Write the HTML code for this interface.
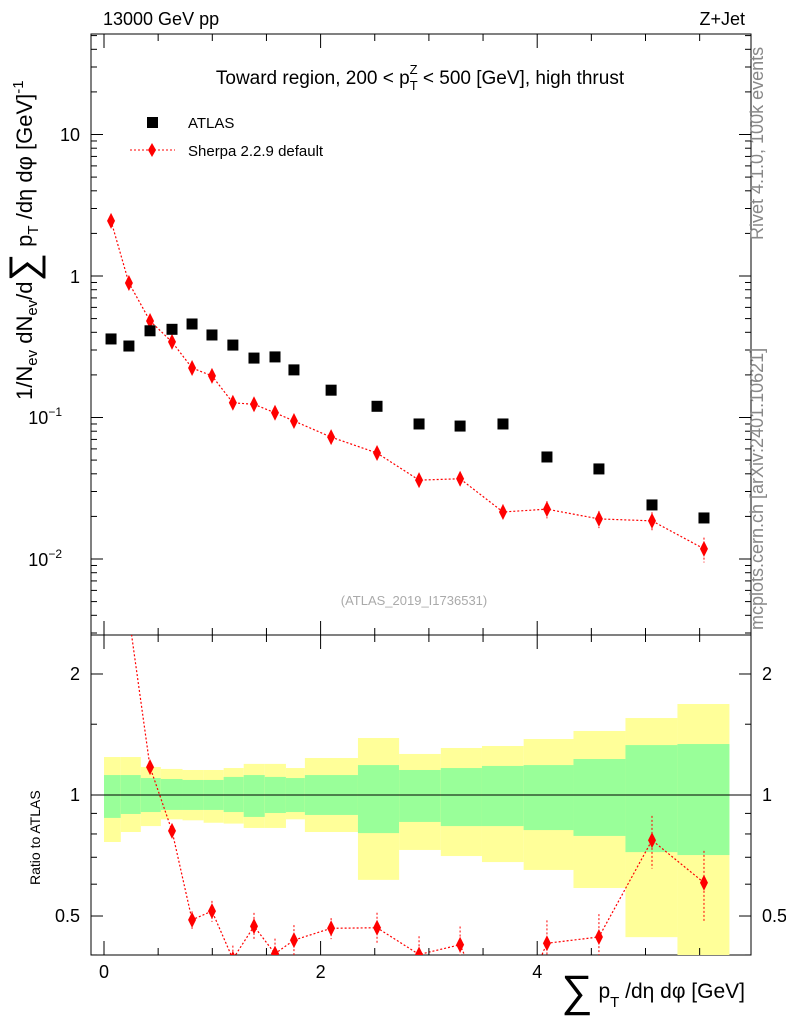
<!DOCTYPE html>
<html><head><meta charset="utf-8"><style>
body{margin:0;background:#fff;}
svg{display:block;font-family:"Liberation Sans",sans-serif;}
</style></head><body>
<svg id="c" width="786" height="1024" xmlns="http://www.w3.org/2000/svg">
<rect x="91" y="34" width="660" height="601" fill="none" stroke="#000"/>
<rect x="91" y="635" width="660" height="320" fill="none" stroke="#000"/>
<g id="bands"></g><g id="ratio"></g><g id="main"></g><g id="axes"></g>
<text x="103" y="25" font-size="18">13000 GeV pp</text>
<text x="745" y="25" font-size="18" text-anchor="end">Z+Jet</text>
<text x="420" y="84" font-size="19" text-anchor="middle">Toward region, 200 &lt; p<tspan font-size="13" dy="6">T</tspan><tspan font-size="13" dx="-8" dy="-16">Z</tspan><tspan dy="10"> &lt; 500 [GeV], high thrust</tspan></text>
<text x="414" y="605" font-size="13" fill="#aaa" text-anchor="middle">(ATLAS_2019_I1736531)</text>
<text transform="translate(763,240) rotate(-90)" font-size="18" fill="#888">Rivet 4.1.0,  100k events</text>
<text transform="translate(763,630) rotate(-90)" font-size="18" fill="#888">mcplots.cern.ch [arXiv:2401.10621]</text>
<g>
<rect x="147" y="117" width="11" height="11" fill="#000"/>
<text x="188" y="128" font-size="15">ATLAS</text>
<line x1="130" y1="150" x2="175" y2="150" stroke="red" stroke-dasharray="2,2"/>
<polygon points="152,143 156,150 152,157 148,150" fill="red"/>
<text x="188" y="156" font-size="15">Sherpa 2.2.9 default</text>
</g>
<text transform="translate(32,400) rotate(-90)" font-size="22">1/N<tspan font-size="15" dy="5">ev</tspan><tspan dy="-5"> dN</tspan><tspan font-size="15" dy="5">ev</tspan><tspan dy="-5">/d</tspan><tspan font-size="40" dy="5">∑</tspan><tspan dy="-5"> p</tspan><tspan font-size="15" dy="6">T</tspan><tspan dy="-6"> /dη dφ  [GeV]</tspan><tspan font-size="15" dy="-9">-1</tspan></text>
<text transform="translate(40,885) rotate(-90)" font-size="14">Ratio to ATLAS</text>
<text x="745" y="998" font-size="21" text-anchor="end"><tspan font-size="44" dy="8">∑</tspan><tspan dy="-8"> p</tspan><tspan font-size="15" dy="9">T</tspan><tspan dy="-9"> /dη dφ [GeV]</tspan></text>
</svg>
<script>
const edges=[0,0.155,0.34,0.525,0.725,0.92,1.105,1.29,1.485,1.68,1.855,2.345,2.725,3.11,3.49,3.875,4.335,4.815,5.295,5.775];
const xc=[0.065,0.23,0.425,0.628,0.813,0.997,1.19,1.385,1.579,1.754,2.097,2.521,2.909,3.288,3.684,4.09,4.57,5.06,5.54];
const atlas=[0.359,0.32,0.41,0.42,0.458,0.383,0.325,0.263,0.268,0.217,0.156,0.12,0.09,0.087,0.09,0.0526,0.0433,0.0241,0.0195];
const sherpa=[2.45,0.893,0.481,0.342,0.224,0.197,0.127,0.124,0.108,0.0945,0.0727,0.0561,0.0361,0.0369,0.0215,0.0225,0.0192,0.0186,0.0118];
const sherpaErr=[0.03,0.03,0.04,0.04,0.05,0.06,0.08,0.08,0.09,0.09,0.06,0.09,0.11,0.11,0.13,0.14,0.14,0.15,0.2];
const yellowHi=[1.243,1.243,1.174,1.161,1.154,1.154,1.167,1.195,1.195,1.167,1.236,1.386,1.265,1.309,1.324,1.378,1.443,1.554,1.684];
const yellowLo=[0.764,0.809,0.837,0.87,0.865,0.853,0.849,0.828,0.828,0.87,0.809,0.615,0.73,0.705,0.681,0.651,0.587,0.443,0.35];
const greenHi=[1.121,1.121,1.102,1.096,1.09,1.09,1.109,1.121,1.109,1.102,1.121,1.187,1.154,1.167,1.181,1.187,1.229,1.331,1.339];
const greenLo=[0.877,0.897,0.907,0.918,0.918,0.918,0.907,0.882,0.902,0.907,0.892,0.804,0.857,0.837,0.837,0.818,0.791,0.721,0.709];
const NS="http://www.w3.org/2000/svg";
const X=v=>104+108.3*v;
const Y=v=>276-141.5*Math.log10(v);
const R=v=>795-402*Math.log10(v);
function mk(p,t,a){const e=document.createElementNS(NS,t);for(const k in a)e.setAttribute(k,a[k]);p.appendChild(e);return e;}
const gb=document.getElementById('bands'),gr=document.getElementById('ratio'),gm=document.getElementById('main'),ga=document.getElementById('axes');
for(let i=0;i<xc.length;i++){
 const x0=X(edges[i]),x1=X(edges[i+1]);
 const yt=Math.max(635,R(yellowHi[i])),yb=Math.min(955,R(yellowLo[i]));
 const y=mk(gb,'rect',{x:x0,y:yt,width:x1-x0,height:yb-yt,fill:'#ffff99'});
 
 
 const gt=R(greenHi[i]),gbm=R(greenLo[i]);
 const g=mk(gb,'rect',{x:x0,y:gt,width:x1-x0,height:gbm-gt,fill:'#99ff99'});
 
 
}
const ref=mk(gb,'line',{x1:91,x2:751,y1:R(1),y2:R(1),stroke:'#000'});


const defs=mk(document.getElementById('c'),'defs',{});
const cp=mk(defs,'clipPath',{id:'rc'});mk(cp,'rect',{x:91,y:635,width:660,height:320});
gr.setAttribute('clip-path','url(#rc)');
const rv=sherpa.map((s,i)=>s/atlas[i]);
const rl=mk(gr,'polyline',{points:rv.map((r,i)=>X(xc[i])+','+R(r)).join(' '),fill:'none',stroke:'red','stroke-dasharray':'2,2','stroke-width':1.2});


rv.forEach((r,i)=>{const x=X(xc[i]),y=R(r),e1=R(r*(1+sherpaErr[i])),e2=R(r*(1-sherpaErr[i]));
 const l=mk(gr,'line',{x1:x,x2:x,y1:e1,y2:e2,stroke:'red','stroke-dasharray':'2,2'});
 
 
 const p=mk(gr,'polygon',{points:`${x},${y-8} ${x+4},${y} ${x},${y+8} ${x-4},${y}`,fill:'red'});
 
 
});
const ml=mk(gm,'polyline',{points:sherpa.map((s,i)=>X(xc[i])+','+Y(s)).join(' '),fill:'none',stroke:'red','stroke-dasharray':'2,2','stroke-width':1.2});


sherpa.forEach((s,i)=>{const x=X(xc[i]),y=Y(s);
 const l=mk(gm,'line',{x1:x,x2:x,y1:Y(s*(1+sherpaErr[i])),y2:Y(s*(1-sherpaErr[i])),stroke:'red','stroke-dasharray':'2,2'});
 
 
 const p=mk(gm,'polygon',{points:`${x},${y-8} ${x+4},${y} ${x},${y+8} ${x-4},${y}`,fill:'red'});
 
 
});
atlas.forEach((a,i)=>{const x=X(xc[i]),y=Y(a);
 const r=mk(gm,'rect',{x:x-5.5,y:y-5.5,width:11,height:11,fill:'#000'});
 
 
});
function tk(x1,y1,x2,y2){const l=mk(ga,'line',{x1,y1,x2,y2,stroke:'#000'});}
function lb(x,y,t,anc,fs){const e=mk(ga,'text',{x,y,'text-anchor':anc,'font-size':fs||18});e.textContent=t;return e;}
for(let d=-3;d<=1;d++){for(let m=1;m<10;m++){const v=m*Math.pow(10,d),y=Y(v);if(y<34||y>635)continue;const L=m==1?12:6;tk(91,y,91+L,y);tk(751,y,751-L,y);}}
lb(80,141,'10','end');lb(80,283,'1','end');
const t1=lb(62,424,'10','end');mk(t1,'tspan',{dy:-8,'font-size':12}).textContent='−1';
const t2=lb(62,566,'10','end');mk(t2,'tspan',{dy:-8,'font-size':12}).textContent='−2';
[0.5,1,2].forEach(v=>{const y=R(v);tk(91,y,103,y);tk(751,y,739,y);lb(80,y+6,String(v),'end');lb(762,y+6,String(v),'start');});
[0.4,0.6,0.7,0.8,0.9,1.5].forEach(v=>{const y=R(v);tk(91,y,97,y);tk(751,y,745,y);});
for(let v=0;v<=6;v+=0.5){const x=X(v);if(x>751)continue;const L=v%2==0?14:7;tk(x,635,x,635+L);tk(x,955,x,955-L);tk(x,34,x,34+L);tk(x,635,x,635-L);}
[0,2,4].forEach(v=>lb(X(v),978,String(v),'middle'));
</script>
</body></html>
